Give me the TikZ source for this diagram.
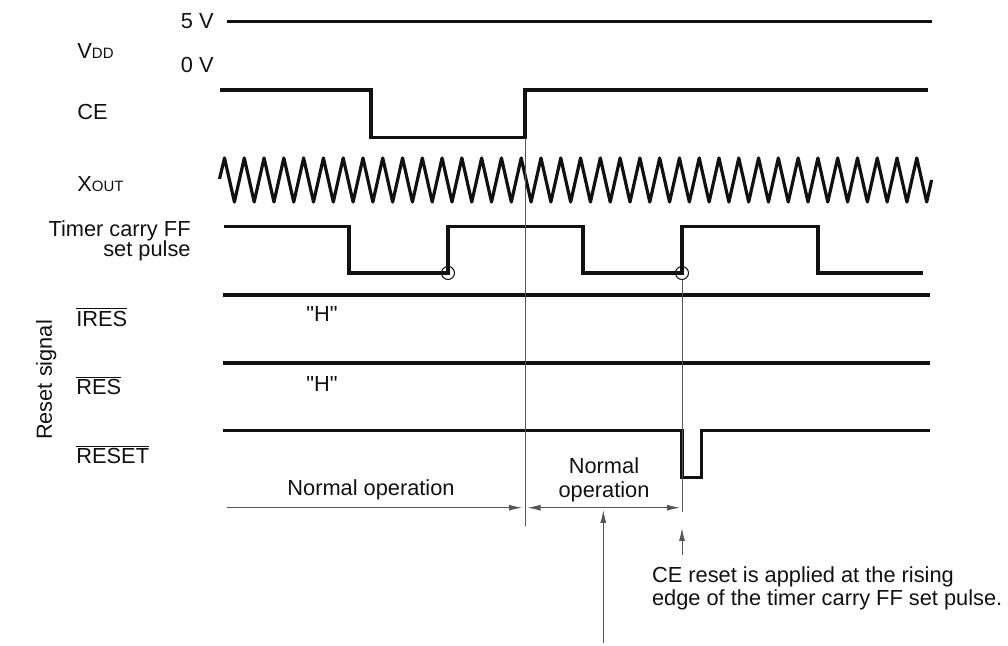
\documentclass[tikz,border=0pt]{standalone}
\usepackage{fontspec}
\setmainfont{Liberation Sans}[Ligatures=TeXOff]
\usepackage{tikz}
\usetikzlibrary{arrows.meta,positioning}
\definecolor{inkline}{HTML}{111111}
\definecolor{guideline}{HTML}{555555}
\newcommand{\sigsub}{\fontsize{7.5}{8}\selectfont}

\begin{document}
\begin{tikzpicture}[
    x=0.5pt, y=-0.5pt,
    lbl/.style={font=\fontsize{10.9}{13}\selectfont, text=inkline, inner sep=0pt},
    sig/.style={line width=1.6pt, draw=inkline, line join=miter},
    clk/.style={line width=1.6pt, draw=inkline, line join=round},
    guide/.style={line width=0.5pt, draw=guideline},
    dimarrow/.style={guide, {Latex[length=6.5pt,width=3pt]}-{Latex[length=6.5pt,width=3pt]}},
    notearrow/.style={guide, -{Latex[length=6.5pt,width=3pt]}},
    edgemark/.style={circle, draw=inkline, line width=0.5pt, minimum size=6.5pt, inner sep=0pt}
]
    \useasboundingbox (0,0) rectangle (1008,646);

    % Signal names
    \node[lbl, anchor=base east] (fivev) at (214,28.3) {5 V};
    \node[lbl, anchor=base east] (zerov) at (214,72.7) {0 V};
    \node[lbl, anchor=base west] (vdd) at (77,58.3) {V\sigsub DD};
    \node[lbl, anchor=base west] (ce) at (77,120) {CE};
    \node[lbl, anchor=base west] (xout) at (77,191.7) {X\sigsub OUT};
    \node[lbl, anchor=east, align=right] (tmr) at (191,241) {Timer carry FF\\[-3pt]set pulse};
    \node[lbl, anchor=base west] (ires) at (76,326.7) {$\overline{\mbox{IRES}}$};
    \node[lbl, anchor=base west] (res) at (76,395) {$\overline{\mbox{RES}}$};
    \node[lbl, anchor=base west] (reset) at (76,464) {$\overline{\mbox{RESET}}$};
    \node[lbl, rotate=90, anchor=base] (rstsig) at (52,380) {Reset signal};

    % Waveforms
    \draw[sig] (227,21.7) -- (932,21.7);
    \draw[sig] (220,90) -| (371,137.7) -| (525,90) -- (928,90);
    \draw[clk] (219.5,179) \foreach \k in {0,...,35} {
        -- ({224.5+\k*19.78},158) -- ({234.4+\k*19.78},202) } -- (931.6,180);
    \draw[sig] (224,226.5) -| (349,273) -| (448,226.5) -| (583,273)
        -| (682,226.5) -| (818,273) -- (923,273);
    \draw[sig] (223,295) -- (930,295);
    \draw[sig] (223,363) -- (930,363);
    \draw[sig] (223,430.7) -| (682,477.7) -| (701.7,430.7) -- (930,430.7);

    \node[lbl, anchor=base] (hires) at (322,322) {"H"};
    \node[lbl, anchor=base] (hres) at (322,392) {"H"};

    % Rising edges of the set pulse
    \node[edgemark] (mark1) at (448,273) {};
    \node[edgemark] (mark2) at (682,273) {};

    % Guide lines
    \coordinate (cerise) at (525,137.7);
    \coordinate (ceguide) at (525,526);
    \coordinate (rstguide) at (682,512);
    \draw[guide] (cerise) -- (ceguide);
    \draw[guide] (mark2.south) -- (rstguide);

    % Operation spans
    \coordinate (opA) at (227,507.7);
    \coordinate (opB) at (522,507.7);
    \coordinate (opC) at (527.5,507.7);
    \coordinate (opD) at (680,507.7);
    \draw[notearrow] (opA) -- (opB);
    \draw[dimarrow] (opC) -- (opD);
    \node[lbl, anchor=base] (normop1) at (371,496) {Normal operation};
    \node[lbl, align=center] (normop2) at (604,480) {Normal\\[-1pt]operation};

    % Notes
    \coordinate (noteA) at (603.3,643);
    \coordinate (noteB) at (603.3,510);
    \draw[notearrow] (noteA) -- (noteB);
    \coordinate (rstA) at (682,555);
    \coordinate (rstB) at (682,528);
    \draw[notearrow] (rstA) -- (rstB);
    \node[lbl, anchor=west, align=left] (rstnote) at (651.7,588) {CE reset is applied at the rising\\[-1.5pt]edge of the timer carry FF set pulse.};
\end{tikzpicture}
\end{document}
